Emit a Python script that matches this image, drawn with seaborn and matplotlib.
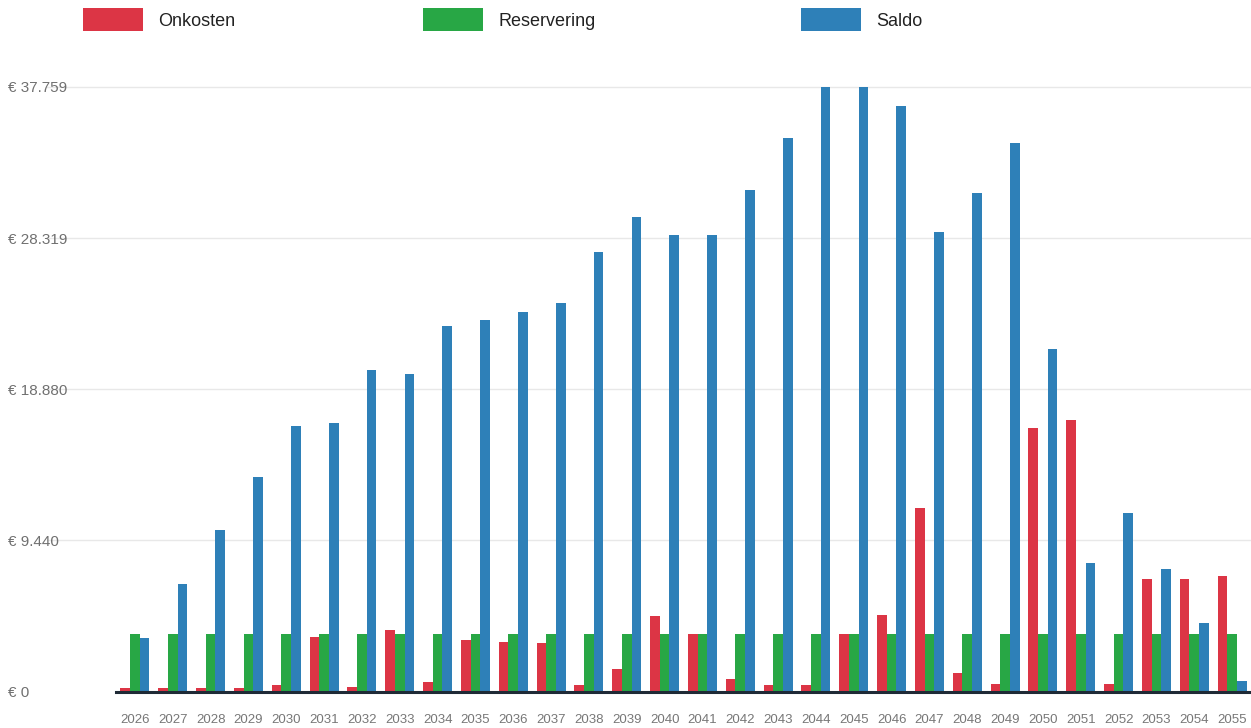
import numpy as np
import pandas as pd
import matplotlib
matplotlib.use("Agg")
import matplotlib.pyplot as plt
import seaborn as sns
from matplotlib.patches import Rectangle
from matplotlib.lines import Line2D

years = [str(y) for y in range(2026, 2056)]
onkosten = [200, 200, 200, 200, 400, 3400, 280, 3840, 600, 3200,
            3090, 3030, 400, 1400, 4710, 3590, 780, 400, 400, 3590,
            4780, 11460, 1155, 470, 16450, 16950, 470, 7025, 7025, 7210]
reservering = [3590] * 30
saldo = [3340, 6710, 10080, 13390, 16580, 16765, 20075, 19825, 22820, 23200,
         23700, 24260, 27440, 29630, 28500, 28500, 31310, 34560, 37759, 37759,
         36560, 28690, 31130, 34250, 21390, 8020, 11145, 7650, 4280, 655]
series_names = ["Onkosten", "Reservering", "Saldo"]
colors = ["#dc3545", "#28a745", "#2e80b8"]
ytick_values = [0, 9440, 18880, 28319, 37759]
ytick_labels = ["€ 0", "€ 9.440", "€ 18.880", "€ 28.319", "€ 37.759"]

df = pd.DataFrame({
    "jaar": years * 3,
    "serie": [series_names[0]] * 30 + [series_names[1]] * 30 + [series_names[2]] * 30,
    "waarde": onkosten + reservering + saldo,
})

sns.set_theme(style="white")
plt.rcParams["font.family"] = ["Liberation Sans", "DejaVu Sans"]

W, H = 1251, 728
fig = plt.figure(figsize=(W / 100, H / 100), dpi=100)
left, right, top, bottom = 116, 1251, 87, 691.5
ax = fig.add_axes([left / W, 1 - bottom / H, (right - left) / W, (bottom - top) / H])

sns.barplot(data=df, x="jaar", y="waarde", hue="serie", hue_order=series_names,
            palette=colors, width=0.77, saturation=1, legend=False, ax=ax,
            errorbar=None, linewidth=0, edgecolor="none")

ax.set_xlim(-0.5, 29.5)
ax.set_ylim(0, 37759)
ax.set_xlabel("")
ax.set_ylabel("")
for s in ["top", "right", "left"]:
    ax.spines[s].set_visible(False)
ax.spines["bottom"].set_color("#1f2a36")
ax.spines["bottom"].set_linewidth(2.2)
ax.spines["bottom"].set_zorder(5)

ax.set_yticks(ytick_values)
ax.set_yticklabels(ytick_labels)
ax.tick_params(axis="y", length=0, pad=(left - 8) * 0.72, labelsize=11, labelcolor="#707070")
for lab in ax.get_yticklabels():
    lab.set_horizontalalignment("left")
    lab.set_verticalalignment("center_baseline")
ax.tick_params(axis="x", length=0, pad=16, labelsize=9.5, labelcolor="#777777")

# gridlines extending left beyond plot area
for v in ytick_values[1:]:
    ln = Line2D([-(left - 47) / (right - left), 1], [v, v], transform=ax.get_yaxis_transform(),
                color="#e8e8e8", linewidth=1, clip_on=False, zorder=0)
    ax.add_line(ln)

# manual legend
leg_x = [83, 423, 801]
for x0, name, c in zip(leg_x, series_names, colors):
    fig.patches.append(Rectangle((x0 / W, 1 - 31 / H), 60 / W, 23 / H,
                                 transform=fig.transFigure, facecolor=c, edgecolor="none"))
    fig.text((x0 + 75) / W, 1 - 21 / H, name, fontsize=13, color="#222222",
             ha="left", va="center")

fig.savefig("out.png", dpi=100)
